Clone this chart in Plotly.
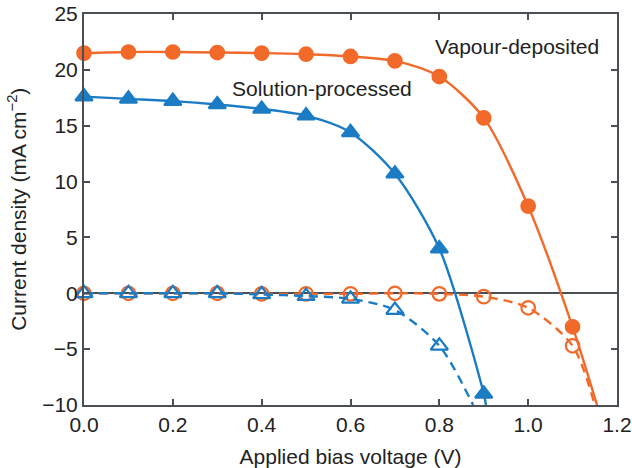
import plotly.graph_objects as go

# Data
v_light = [0.0, 0.1, 0.2, 0.3, 0.4, 0.5, 0.6, 0.7, 0.8, 0.9, 1.0, 1.1]
j_vap_light = [21.5, 21.6, 21.6, 21.55, 21.5, 21.4, 21.2, 20.8, 19.4, 15.7, 7.8, -3.0]
vap_end_v = 1.155
vap_end_j = -10.0

j_sol_light_v = [0.0, 0.1, 0.2, 0.3, 0.4, 0.5, 0.6, 0.7, 0.8, 0.9]
j_sol_light = [17.6, 17.4, 17.2, 16.9, 16.5, 15.9, 14.4, 10.7, 4.0, -9.0]
sol_end_v = 0.905
sol_end_j = -10.0

v_dark_vap = [0.0, 0.1, 0.2, 0.3, 0.4, 0.5, 0.6, 0.7, 0.8, 0.9, 1.0, 1.1]
j_vap_dark = [0.0, 0.0, 0.0, 0.0, -0.05, -0.05, -0.05, 0.0, -0.05, -0.3, -1.3, -4.7]
vap_dark_end_v = 1.15
vap_dark_end_j = -10.0

v_dark_sol = [0.0, 0.1, 0.2, 0.3, 0.4, 0.5, 0.6, 0.7, 0.8]
j_sol_dark = [0.0, 0.0, 0.0, 0.0, -0.1, -0.25, -0.5, -1.5, -4.7]
sol_dark_end_v = 0.876
sol_dark_end_j = -10.0

x_ticks = [0.0, 0.2, 0.4, 0.6, 0.8, 1.0, 1.2]
x_ticktext = ["0.0", "0.2", "0.4", "0.6", "0.8", "1.0", "1.2"]
y_ticks = [-10, -5, 0, 5, 10, 15, 20, 25]
y_ticktext = ["\u221210", "\u22125", "0", "5", "10", "15", "20", "25"]

ORANGE = "#F26A2A"
BLUE = "#1B7CC4"
AXIS = "#4A4F55"
TEXT = "#222222"
FONT = "Liberation Sans, Arial, sans-serif"
FS = 21

fig = go.Figure()

def curve(xs, ys, ex, ey, color, dash, symbol, filled):
    fig.add_trace(go.Scatter(
        x=xs + [ex], y=ys + [ey], mode="lines",
        line=dict(color=color, width=2.4, dash=dash, shape="spline", smoothing=0.8),
        hoverinfo="skip", showlegend=False))
    fig.add_trace(go.Scatter(
        x=xs, y=ys, mode="markers",
        marker=dict(symbol=symbol if filled else symbol + "-open",
                    size=13.5 if "circle" in symbol else 15,
                    color=color,
                    line=dict(color=color, width=2.2)),
        showlegend=False, cliponaxis=False))

curve(v_dark_vap, j_vap_dark, vap_dark_end_v, vap_dark_end_j, ORANGE, "9px,6px", "circle", False)
curve(v_dark_sol, j_sol_dark, sol_dark_end_v, sol_dark_end_j, BLUE, "9px,6px", "triangle-up", False)
curve(v_light, j_vap_light, vap_end_v, vap_end_j, ORANGE, "solid", "circle", True)
curve(j_sol_light_v, j_sol_light, sol_end_v, sol_end_j, BLUE, "solid", "triangle-up", True)

fig.add_annotation(x=0.786, y=22.1, text="Vapour-deposited", showarrow=False,
                   xanchor="left", yanchor="middle", font=dict(size=FS, color=TEXT, family=FONT))
fig.add_annotation(x=0.329, y=18.35, text="Solution-processed", showarrow=False,
                   xanchor="left", yanchor="middle", font=dict(size=FS, color=TEXT, family=FONT))
# y-axis title placed as a rotated annotation to match the reference position
fig.add_annotation(xref="paper", yref="paper", x=-0.127, y=0.5, textangle=-90,
                   text="Current density (mA cm<sup>\u22122</sup>)", showarrow=False,
                   xanchor="center", yanchor="middle", font=dict(size=FS, color=TEXT, family=FONT))

axis_common = dict(showline=True, linecolor=AXIS, linewidth=2, mirror="ticks",
                   ticks="inside", ticklen=6, tickwidth=1.5, tickcolor=AXIS,
                   showgrid=False, automargin=False, ticklabeloverflow="allow",
                   tickfont=dict(size=FS, color=TEXT, family=FONT))

fig.update_xaxes(range=[0, 1.2], tickvals=x_ticks, ticktext=x_ticktext,
                 title=dict(text="Applied bias voltage (V)", font=dict(size=FS, color=TEXT, family=FONT), standoff=17),
                 zeroline=False, **axis_common)
fig.update_yaxes(range=[-10, 25], tickvals=y_ticks, ticktext=y_ticktext,
                 zeroline=True, zerolinecolor=AXIS, zerolinewidth=1.5, **axis_common)

fig.update_layout(width=632, height=468, margin=dict(l=84, r=15, t=14, b=63),
                  plot_bgcolor="white", paper_bgcolor="white",
                  font=dict(family=FONT, color=TEXT))

# remove the browser's default 8px body margin so the figure fills the window
fig.write_html("out.html", config={"displayModeBar": False},
               post_script="document.body.style.margin='0';")
